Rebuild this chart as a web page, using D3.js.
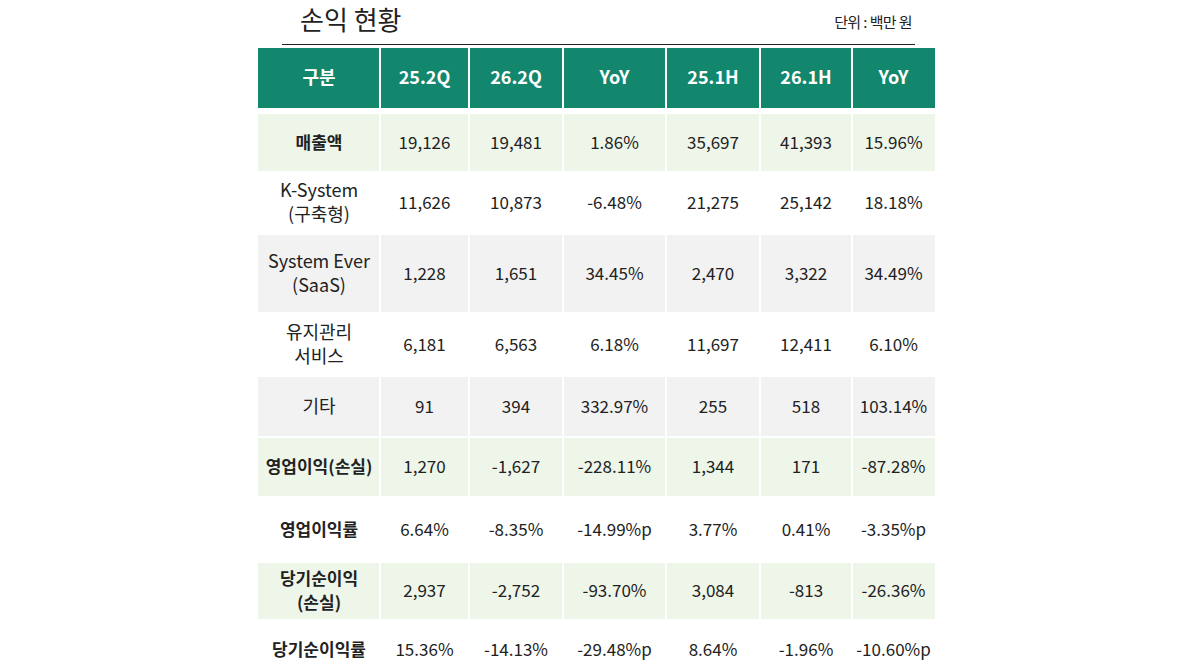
<!DOCTYPE html>
<html>
<head>
<meta charset="utf-8">
<script src="https://cdn.jsdelivr.net/npm/d3@7"></script>
<style>
  body { margin: 0; background: #fff; }
  svg { display: block; font-family: "Noto Sans CJK KR", "Noto Sans", sans-serif; }
</style>
</head>
<body>
<svg id="chart" width="1195" height="672"></svg>
<script>
// header and row labels
var columns = ['구분', '25.2Q', '26.2Q', 'YoY', '25.1H', '26.1H', 'YoY'];
var rowLabels = [
  ['매출액'],
  ['K-System', '(구축형)'],
  ['System Ever', '(SaaS)'],
  ['유지관리', '서비스'],
  ['기타'],
  ['영업이익(손실)'],
  ['영업이익률'],
  ['당기순이익', '(손실)'],
  ['당기순이익률']
];
var rowKinds = ['green', 'white', 'gray', 'white', 'gray', 'green', 'white', 'green', 'white'];
var rowBold = [true, false, false, false, false, true, true, true, true];

var q252 = ['19,126', '11,626', '1,228', '6,181', '91', '1,270', '6.64%', '2,937', '15.36%'];
var q262 = ['19,481', '10,873', '1,651', '6,563', '394', '-1,627', '-8.35%', '-2,752', '-14.13%'];
var qYoY = ['1.86%', '-6.48%', '34.45%', '6.18%', '332.97%', '-228.11%', '-14.99%p', '-93.70%', '-29.48%p'];
var h251 = ['35,697', '21,275', '2,470', '11,697', '255', '1,344', '3.77%', '3,084', '8.64%'];
var h261 = ['41,393', '25,142', '3,322', '12,411', '518', '171', '0.41%', '-813', '-1.96%'];
var hYoY = ['15.96%', '18.18%', '34.49%', '6.10%', '103.14%', '-87.28%', '-3.35%p', '-26.36%', '-10.60%p'];

var valueCols = [q252, q262, qYoY, h251, h261, hYoY];

// layout
var colEdges = [258, 380, 469, 563, 666, 760, 852, 935];
var rowEdges = [113, 172, 234, 313, 376, 437, 497, 562, 620, 680];
var headerTop = 48, headerBottom = 108;
var fills = { green: '#eef6ea', white: '#ffffff', gray: '#f2f2f2' };

var svg = d3.select('#chart');

// title
svg.append('text')
  .attr('x', 300).attr('y', 30)
  .attr('font-size', 26).attr('fill', '#222')
  .text('손익 현황');
svg.append('text')
  .attr('x', 912).attr('y', 28)
  .attr('text-anchor', 'end')
  .attr('font-size', 15).attr('fill', '#222')
  .attr('letter-spacing', -0.6)
  .text('단위 : 백만 원');
svg.append('line')
  .attr('x1', 282).attr('x2', 915)
  .attr('y1', 44.5).attr('y2', 44.5)
  .attr('stroke', '#222').attr('stroke-width', 1);

var colIdx = d3.range(columns.length);
var x0 = function (i) { return colEdges[i]; };
var x1 = function (i) { return colEdges[i + 1]; };
var cx = function (i) { return (colEdges[i] + colEdges[i + 1]) / 2; };
var cellW = function (i) { return x1(i) - x0(i) - (i ? 1 : 0) - (i < columns.length - 1 ? 1 : 0); };

// header
var head = svg.append('g');
head.selectAll('rect')
  .data(colIdx)
  .join('rect')
  .attr('x', function (i) { return x0(i) + (i ? 1 : 0); })
  .attr('y', headerTop)
  .attr('width', cellW)
  .attr('height', headerBottom - headerTop)
  .attr('fill', '#12876d');
head.selectAll('text')
  .data(colIdx)
  .join('text')
  .attr('x', cx)
  .attr('y', (headerTop + headerBottom) / 2)
  .attr('dy', '0.36em')
  .attr('text-anchor', 'middle')
  .attr('font-size', 18)
  .attr('font-weight', 'bold')
  .attr('fill', '#fff')
  .text(function (i) { return columns[i]; });

// body rows
var rows = svg.append('g').selectAll('g')
  .data(d3.range(rowLabels.length))
  .join('g');

rows.each(function (r) {
  var g = d3.select(this);
  var top = rowEdges[r], bottom = rowEdges[r + 1];
  var mid = (top + bottom) / 2;

  g.selectAll('rect')
    .data(colIdx)
    .join('rect')
    .attr('x', function (i) { return x0(i) + (i ? 1 : 0); })
    .attr('y', top + 1)
    .attr('width', cellW)
    .attr('height', bottom - top - 2)
    .attr('fill', fills[rowKinds[r]]);

  // label, one text per line
  var lines = rowLabels[r];
  var lineH = lines.length > 1 ? 24 : 0;
  g.selectAll('text.lab')
    .data(lines)
    .join('text')
    .attr('class', 'lab')
    .attr('x', cx(0))
    .attr('y', function (t, k) { return mid + (k - (lines.length - 1) / 2) * lineH; })
    .attr('dy', '0.36em')
    .attr('text-anchor', 'middle')
    .attr('font-size', rowBold[r] ? 17 : 18)
    .attr('font-weight', rowBold[r] ? 'bold' : 'normal')
    .attr('fill', '#222')
    .text(function (t) { return t; });

  // values
  g.selectAll('text.val')
    .data(valueCols)
    .join('text')
    .attr('class', 'val')
    .attr('x', function (d, i) { return cx(i + 1); })
    .attr('y', mid)
    .attr('dy', '0.36em')
    .attr('text-anchor', 'middle')
    .attr('font-size', 17)
    .attr('fill', '#222')
    .text(function (d) { return d[r]; });
});
</script>
</body>
</html>
